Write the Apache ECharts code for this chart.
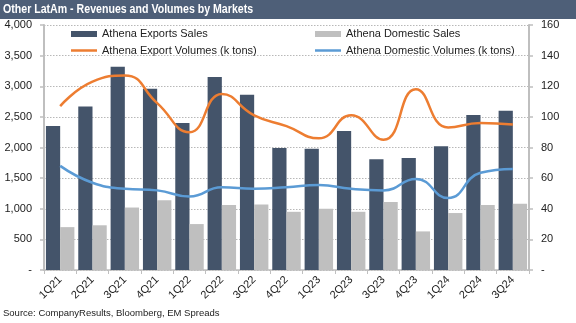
<!DOCTYPE html>
<html>
<head>
<meta charset="utf-8">
<script src="https://cdn.jsdelivr.net/npm/echarts@6/dist/echarts.min.js"></script>
<style>
html,body{margin:0;padding:0;background:#fff;}
#c{width:576px;height:323px;}
</style>
</head>
<body>
<div id="c"></div>
<script>
const categories = ['1Q21','2Q21','3Q21','4Q21','1Q22','2Q22','3Q22','4Q22','1Q23','2Q23','3Q23','4Q23','1Q24','2Q24','3Q24'];
const exportSales = [2350,2670,3320,2960,2400,3150,2860,1990,1980,2270,1810,1830,2020,2530,2600];
const domesticSales = [700,730,1020,1140,750,1060,1070,950,1000,950,1110,630,930,1060,1080];
const exportVolumes = [107,123,127,109,90,115,101,94,86,101,85,118,93,96,95];
const domesticVolumes = [68,57,53,52,48,54,53,54,55.5,53,52,59.5,47,63.5,66];
const leftTicks = [0,500,1000,1500,2000,2500,3000,3500,4000];
const rightTicks = [0,20,40,60,80,100,120,140,160];

const FONT = 'Liberation Sans';
const chart = echarts.init(document.getElementById('c'), null, {renderer:'canvas'});
const fmtLeft = v => v === 0 ? '-' : v.toLocaleString('en-US');
const fmtRight = v => v === 0 ? '-' : String(v);
const lineIcon = 'path://M0,0h26v2.5h-26z';

chart.setOption({
  animation: false,
  textStyle: {fontFamily: FONT},
  graphic: [
    {type:'rect', left:0, top:0, shape:{width:576, height:19}, style:{fill:'#4E5F78'}, z:-1},
    {type:'text', x:3, y:2, scaleX:0.785, originX:0, originY:0, style:{text:'Other LatAm - Revenues and Volumes by Markets', fill:'#fff', font:'bold 13.5px "Liberation Sans"'}},
    {type:'text', left:3, top:308, style:{text:'Source: CompanyResults, Bloomberg, EM Spreads', fill:'#222', font:'9.5px "Liberation Sans"'}}
  ],
  grid: {left:44, right:47, top:25, bottom:53, containLabel:false},
  legend: [
    {left:71, top:28, padding:0, orient:'vertical', itemWidth:26, itemHeight:6, itemGap:4.5,
     textStyle:{fontSize:11, color:'#222', fontFamily:FONT, lineHeight:12},
     data:[{name:'Athena Exports Sales', icon:'rect'}, {name:'Athena Export Volumes (k tons)', icon:lineIcon}]},
    {left:315, top:28, padding:0, orient:'vertical', itemWidth:26, itemHeight:6, itemGap:4.5,
     textStyle:{fontSize:11, color:'#222', fontFamily:FONT, lineHeight:12},
     data:[{name:'Athena Domestic Sales', icon:'rect'}, {name:'Athena Domestic Volumes (k tons)', icon:lineIcon}]}
  ],
  xAxis: {
    type:'category', data:categories, boundaryGap:true,
    axisLine:{lineStyle:{color:'#BFBFBF', width:1.5}},
    axisTick:{show:true, interval:0, length:4, lineStyle:{color:'#BFBFBF'}},
    axisLabel:{interval:0, rotate:45, margin:8, fontSize:11, color:'#222', fontFamily:FONT}
  },
  yAxis: [
    {type:'value', min:0, max:4000, interval:500, position:'left',
     axisLine:{show:true, lineStyle:{color:'#BFBFBF', width:2}},
     axisTick:{show:true, length:4, lineStyle:{color:'#BFBFBF', width:1.5}},
     axisLabel:{formatter:fmtLeft, fontSize:11, color:'#222', margin:12, fontFamily:FONT},
     splitLine:{show:true, lineStyle:{color:'#A6A6A6', type:[1.5,1.5], width:0.8}}},
    {type:'value', min:0, max:160, interval:20, position:'right',
     axisLine:{show:true, lineStyle:{color:'#BFBFBF', width:2}},
     axisTick:{show:true, length:4, lineStyle:{color:'#BFBFBF', width:1.5}},
     axisLabel:{formatter:fmtRight, fontSize:11, color:'#222', margin:12, fontFamily:FONT},
     splitLine:{show:false}}
  ],
  series: [
    {name:'Athena Exports Sales', type:'bar', yAxisIndex:0, data:exportSales,
     barGap:'0%', barCategoryGap:'12%', itemStyle:{color:'#44546A'}},
    {name:'Athena Domestic Sales', type:'bar', yAxisIndex:0, data:domesticSales,
     barGap:'0%', barCategoryGap:'12%', itemStyle:{color:'#BFBFBF'}},
    {name:'Athena Export Volumes (k tons)', type:'line', yAxisIndex:1, data:exportVolumes,
     smooth:0.5, symbol:'none', lineStyle:{color:'#ED7D31', width:2.5}, itemStyle:{color:'#ED7D31'}},
    {name:'Athena Domestic Volumes (k tons)', type:'line', yAxisIndex:1, data:domesticVolumes,
     smooth:0.5, symbol:'none', lineStyle:{color:'#5B9BD5', width:2.5}, itemStyle:{color:'#5B9BD5'}}
  ]
});
</script>
</body>
</html>
